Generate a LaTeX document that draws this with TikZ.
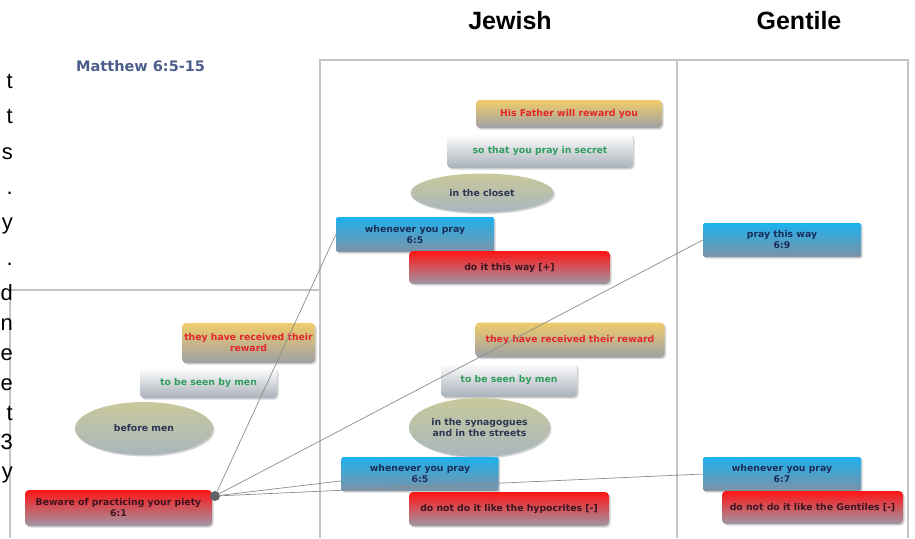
\documentclass[tikz,border=0pt]{standalone}
\usepackage{fontspec}
\setmainfont{Liberation Sans}
\newfontfamily\boxfont{DejaVu Sans}
\usetikzlibrary{positioning, shapes.geometric, shadows}

\definecolor{goldtop}{HTML}{F0CC6A}
\definecolor{cardgray}{HTML}{9EA0A6}
\definecolor{whitebottom}{HTML}{A9B1BA}
\definecolor{bluetop}{HTML}{1DB2EE}
\definecolor{bluebottom}{HTML}{7E92A6}
\definecolor{redtop}{HTML}{FF1414}
\definecolor{redbottom}{HTML}{9E98A6}
\definecolor{ovaltop}{HTML}{C9C99B}
\definecolor{ovalbottom}{HTML}{A9B6BE}
\definecolor{redtext}{HTML}{E3262B}
\definecolor{greentext}{HTML}{2F9D5C}
\definecolor{bluetext}{HTML}{1B2C58}
\definecolor{redboxtext}{HTML}{3C1420}
\definecolor{ovaltext}{HTML}{2C3552}
\definecolor{titleblue}{HTML}{4B5D8A}
\definecolor{linegray}{HTML}{8C8C8C}
\definecolor{panelgray}{HTML}{C4C4C4}
\definecolor{knobgray}{HTML}{5E6468}

\begin{document}
\begin{tikzpicture}[x=1pt, y=-1pt,
     node distance = 3mm and 3mm,
every node/.style = {align=center},
       card/.style = {rectangle, draw=none, rounded corners=4pt,
                     top color=#1, bottom color=cardgray, inner sep=2pt,
                     font=\boxfont\bfseries\fontsize{9.3}{11}\selectfont,
                     drop shadow={shadow xshift=1.5pt, shadow yshift=-1.5pt, opacity=.35}},
    goldbox/.style = {card=goldtop, text=redtext},
   whitebox/.style = {card=white, bottom color=whitebottom, text=greentext},
    bluebox/.style = {card=bluetop, bottom color=bluebottom, rounded corners=1.5pt, text=bluetext},
     redbox/.style = {card=redtop, bottom color=redbottom, text=redboxtext},
       oval/.style = {ellipse, draw=none, top color=ovaltop, bottom color=ovalbottom,
                     inner sep=0pt, text=ovaltext,
                     font=\boxfont\bfseries\fontsize{9.3}{11}\selectfont,
                     drop shadow={shadow xshift=1.5pt, shadow yshift=-1.5pt, opacity=.35}},
       link/.style = {draw=linegray, line width=.7pt},
      panel/.style = {draw=panelgray, line width=1.2pt},
    heading/.style = {font=\bfseries\fontsize{25}{28}\selectfont, anchor=base},
   fragment/.style = {font=\fontsize{22}{24}\selectfont, inner sep=0pt, anchor=base east}
                        ]
\useasboundingbox (0,0) rectangle (915,538);

% panels
\draw[panel] (10,538) |- (320,290);
\draw[panel] (320,538) |- (908,60) -- (908,538);
\draw[panel] (677,60) -- (677,538);

% headings
\node (jewish) [heading] at (510,29) {Jewish};
\node (gentile) [heading] at (799,29) {Gentile};
\node (title) [font=\boxfont\bfseries\fontsize{14.5}{16}\selectfont, text=titleblue,
               anchor=base west, inner sep=0pt] at (76,71) {Matthew 6:5-15};

% cut text on the left
\foreach \ch/\yy [count=\i] in {t/88, t/123, s/159, ./194, y/229, ./265, d/300,
                                n/330, e/360, e/390, t/420, 3/449, y/478}
  \node (frag\i) [fragment] at (13,\yy) {\ch};

% left panel
\node (lreceived) [goldbox, minimum width=133pt, minimum height=40pt] at (248.5,343) {they have received their\\reward};
\node (lseen) [whitebox, minimum width=137pt, minimum height=30pt] at (208.5,383) {to be seen by men};
\node (beforemen) [oval, minimum width=138pt, minimum height=53pt] at (144,428.5) {before men};
\node (beware) [redbox, minimum width=187pt, minimum height=36pt] at (118.5,508) {Beware of practicing your piety\\6:1};
\node (hub) [circle, fill=knobgray, inner sep=0pt, minimum size=10pt] at (215,496) {};

% Jewish panel
\node (reward) [goldbox, minimum width=186pt, minimum height=28pt] at (569,114) {His Father will reward you};
\node (secret) [whitebox, minimum width=186pt, minimum height=34pt] at (540,151) {so that you pray in secret};
\node (closet) [oval, minimum width=143pt, minimum height=39pt] at (482,193) {in the closet};
\node (pray1) [bluebox, minimum width=158pt, minimum height=35pt] at (415,234.5) {whenever you pray\\6:5};
\node (plus) [redbox, minimum width=201pt, minimum height=33pt] at (509.5,267.5) {do it this way [+]};
\node (received) [goldbox, minimum width=189pt, minimum height=35pt] at (570,340) {they have received their reward};
\node (seen) [whitebox, minimum width=136pt, minimum height=34pt] at (509,380) {to be seen by men};
\node (synag) [oval, minimum width=141pt, minimum height=59pt] at (479.5,427.5) {in the synagogues\\and in the streets};
\node (pray2) [bluebox, minimum width=157pt, minimum height=34pt] at (420,474) {whenever you pray\\6:5};
\node (minus) [redbox, minimum width=200pt, minimum height=34pt] at (509,509) {do not do it like the hypocrites [-]};

% Gentile panel
\node (thisway) [bluebox, minimum width=158pt, minimum height=34pt] at (782,240) {pray this way\\6:9};
\node (pray3) [bluebox, minimum width=158pt, minimum height=34pt] at (782,474) {whenever you pray\\6:7};
\node (gentiles) [redbox, minimum width=181pt, minimum height=33pt] at (812.5,507.5) {do not do it like the Gentiles [-]};

\draw[link] (hub) -- (pray1.west);
\draw[link] (hub) -- (thisway.west);
\draw[link] (hub) -- (pray2.185);
\draw[link] (hub) -- (pray3.west);
\end{tikzpicture}
\end{document}
